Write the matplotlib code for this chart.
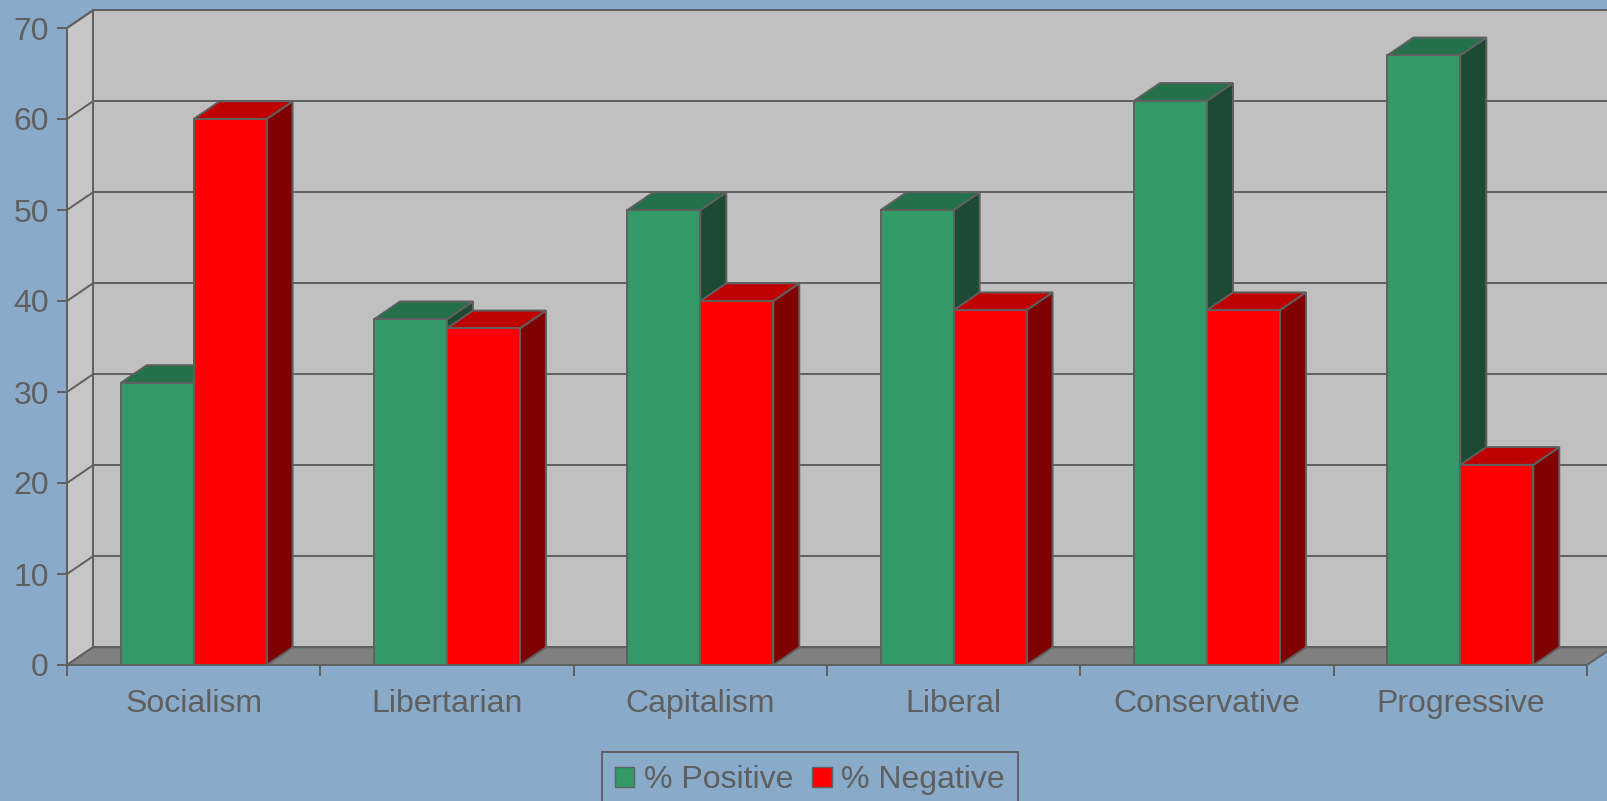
import matplotlib.pyplot as plt
from matplotlib.patches import Polygon, Patch
import numpy as np

plt.rcParams['font.family'] = ['Liberation Sans', 'DejaVu Sans']

categories = ['Socialism', 'Libertarian', 'Capitalism', 'Liberal', 'Conservative', 'Progressive']
positive = [31, 38, 50, 50, 62, 67]
negative = [60, 37, 40, 39, 39, 22]
yticks = [0, 10, 20, 30, 40, 50, 60, 70]

bg = '#89abc9'
wall = '#c0c0c0'
side_wall = '#c6c6c6'
floor = '#808080'
edge = '#606060'
txt = '#5f5f5f'
green = ('#339966', '#24704b', '#1c4a33')   # front, top, side
red = ('#ff0000', '#bf0000', '#800000')
lw = 1.4

fig = plt.figure(figsize=(16.08, 8.01), dpi=100, facecolor=bg)
ax = fig.add_axes([67/1608, 136/801, 1520/1608, 637/801])
ax.set_xlim(-0.5, 5.5)
ax.set_ylim(0, 70)
ax.patch.set_visible(False)

# depth offset of the fake 3d box, in data units
ddx = 26/253.3
ddy = 1.95
x0, x1 = -0.5, 5.5
ytop = 70

def poly(pts, fc, z):
    p = Polygon(pts, closed=True, facecolor=fc, edgecolor=edge, linewidth=lw,
                zorder=z, clip_on=False, joinstyle='miter')
    ax.add_patch(p)

# back wall, left wall, floor
poly([(x0+ddx, ddy), (x1+ddx, ddy), (x1+ddx, ytop+ddy), (x0+ddx, ytop+ddy)], wall, 0.5)
poly([(x0, 0), (x0+ddx, ddy), (x0+ddx, ytop+ddy), (x0, ytop)], side_wall, 0.6)
poly([(x0, 0), (x1, 0), (x1+ddx, ddy), (x0+ddx, ddy)], floor, 0.7)

for y in yticks[1:]:
    ax.plot([x0+ddx, x1+ddx], [y+ddy, y+ddy], color=edge, lw=lw, zorder=0.8, clip_on=False)
    ax.plot([x0, x0+ddx], [y, y+ddy], color=edge, lw=lw, zorder=0.8, clip_on=False)

n = len(categories)
ind = np.arange(n)
width = 0.288

def bar3d(xc, val, cols, z):
    left = xc - width/2
    right = xc + width/2
    poly([(right, 0), (right+ddx, ddy), (right+ddx, val+ddy), (right, val)], cols[2], z)
    poly([(left, val), (right, val), (right+ddx, val+ddy), (left+ddx, val+ddy)], cols[1], z)
    ax.bar(xc, val, width, color=cols[0], edgecolor=edge, linewidth=lw, zorder=z, clip_on=False)

for i in range(n):
    bar3d(ind[i] - width/2, positive[i], green, 3 + i*2)
    bar3d(ind[i] + width/2, negative[i], red, 4 + i*2)

for s in ['top', 'right']:
    ax.spines[s].set_visible(False)
for s in ['left', 'bottom']:
    ax.spines[s].set_color(edge)
    ax.spines[s].set_linewidth(lw)
    ax.spines[s].set_zorder(20)

ax.set_yticks(yticks)
ax.set_xticks(ind)
ax.set_xticklabels(categories)
ax.set_xticks(np.arange(n+1) - 0.5, minor=True)
ax.tick_params(axis='y', length=7.5, width=lw, color=edge, pad=5.5, labelsize=23, labelcolor=txt)
ax.tick_params(axis='x', which='major', length=0, pad=17, labelsize=23, labelcolor=txt)
ax.tick_params(axis='x', which='minor', length=8, width=lw, color=edge)

handles = [Patch(facecolor=green[0], edgecolor=edge, label='% Positive'),
           Patch(facecolor=red[0], edgecolor=edge, label='% Negative')]
leg = fig.legend(handles=handles, loc='center', bbox_to_anchor=(810/1608, 21/801), ncol=2,
                 fontsize=23, frameon=True, fancybox=False, framealpha=1, facecolor=bg,
                 edgecolor=edge, handlelength=0.6, handleheight=0.6, handletextpad=0.3,
                 columnspacing=0.6, borderpad=0.4, labelcolor=txt)
leg.get_frame().set_linewidth(lw)

fig.savefig('out.png', dpi=100, facecolor=bg)
